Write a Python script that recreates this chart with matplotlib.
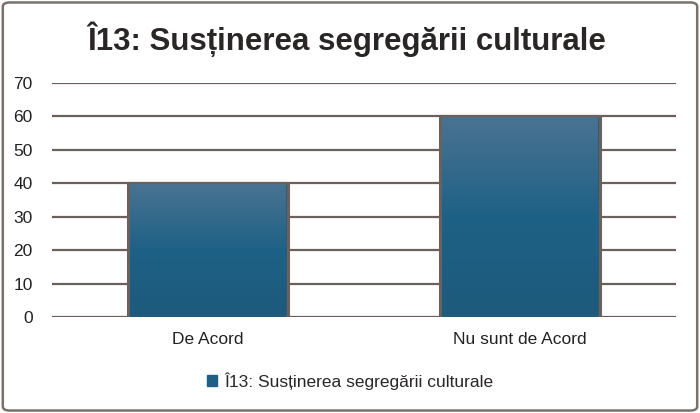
import numpy as np
import matplotlib.pyplot as plt
from matplotlib.patches import FancyBboxPatch, Rectangle
from matplotlib.colors import LinearSegmentedColormap

categories = ["De Acord", "Nu sunt de Acord"]
values = [40, 60]
series_name = "Î13: Susținerea segregării culturale"
title = "Î13: Susținerea segregării culturale"
yticks = [0, 10, 20, 30, 40, 50, 60, 70]

plt.rcParams['font.family'] = ['Liberation Sans', 'DejaVu Sans']

fig = plt.figure(figsize=(7, 4.13), dpi=100)
ax = fig.add_axes([52 / 700, 1 - 317 / 413, 624 / 700, 234 / 413])

# frame around whole chart
fig.patches.append(FancyBboxPatch((0.004, 0.006), 0.992, 0.988, boxstyle="round,pad=0,rounding_size=0.01",
                                  transform=fig.transFigure, fill=False, edgecolor='#7a716d', lw=1.8))

grid_col = '#6b605c'
ax.set_ylim(0, 70)
ax.set_xlim(-0.5, 1.5)
ax.set_yticks(yticks)
for y in yticks:
    ax.axhline(y, color=grid_col, lw=1.6, zorder=1)

x = np.arange(len(categories))
bars = ax.bar(x, values, width=0.515, color='#1f5f85', edgecolor='#6b605c', lw=2.2, zorder=2)

cmap = LinearSegmentedColormap.from_list('g', ['#1d5a7c', '#1e6186', '#4a7391'])
grad = np.linspace(0, 1, 256).reshape(-1, 1)
for b in bars:
    bx, bw, bh = b.get_x(), b.get_width(), b.get_height()
    im = ax.imshow(grad, cmap=cmap, origin='lower', aspect='auto',
                   extent=[bx, bx + bw, 0, bh], zorder=3)
    im.set_clip_path(Rectangle((bx + 0.008, 0), bw - 0.016, bh - 0.2, transform=ax.transData))
ax.set_xlim(-0.5, 1.5)
ax.set_ylim(0, 70)

for s in ax.spines.values():
    s.set_visible(False)
ax.tick_params(axis='y', length=0, labelsize=12.5, colors='#222222', pad=14)
ax.tick_params(axis='x', length=0, labelsize=12.5, colors='#222222', pad=11)
ax.set_xticks(x)
ax.set_xticklabels(categories)

fig.text(0.495, 0.905, title, ha='center', va='center', fontsize=22.5, fontweight='bold',
         color='#2a2626')

handle = Rectangle((0, 0), 1, 1, color='#1f5f85')
fig.legend([handle], [series_name], loc='center', bbox_to_anchor=(0.5, 1 - 381 / 413),
           frameon=False, fontsize=12.5, handlelength=0.6, handleheight=0.6, handletextpad=0.4,
           labelcolor='#2a2626')

fig.savefig('out.png', dpi=100)
